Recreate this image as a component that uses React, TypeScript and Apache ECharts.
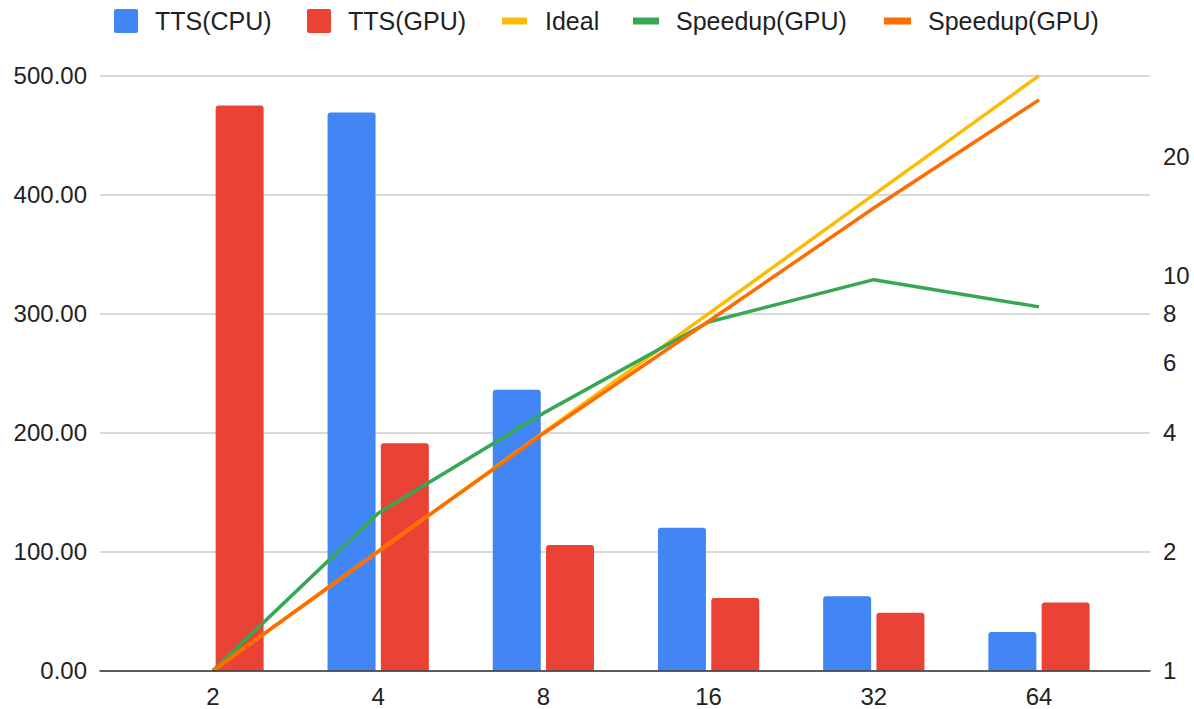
import React, { useEffect, useRef } from 'react';
import * as echarts from 'echarts';

// Thread counts on the category axis
const categories = ['2', '4', '8', '16', '32', '64'];

// Time to solution (left axis)
const ttsCpu: (number | null)[] = [null, 469, 236, 120, 62.4, 32.3];
const ttsGpu: number[] = [475, 191, 105.6, 61, 48.5, 57.2];

// Speedup curves (right axis, log2 scale)
const ideal: number[] = [1, 2, 4, 8, 16, 32];
const speedupGpu: number[] = [1, 2.5, 4.48, 7.62, 9.75, 8.32];
const speedupGpu2: number[] = [1, 2, 3.98, 7.65, 14.8, 27.8];

// Right-axis tick labels
const rightTickLabels = [1, 2, 4, 6, 8, 10, 20];

const seriesNames = ['TTS(CPU)', 'TTS(GPU)', 'Ideal', 'Speedup(GPU)', 'Speedup(GPU) b'];
const legendLabels = ['TTS(CPU)', 'TTS(GPU)', 'Ideal', 'Speedup(GPU)', 'Speedup(GPU)'];
const colors = ['#4285F4', '#EA4335', '#FBBC04', '#34A853', '#FF6D01'];

const FONT = '"Liberation Sans", Arial, sans-serif';
const TEXT = '#222222';

// square legend swatch with slightly rounded corners
const SWATCH =
  'path://M2,0H22A2,2 0 0 1 24,2V22A2,2 0 0 1 22,24H2A2,2 0 0 1 0,22V2A2,2 0 0 1 2,0Z';

export default function App() {
  const ref = useRef<HTMLDivElement>(null);

  useEffect(() => {
    if (!ref.current) return;
    const chart = echarts.init(ref.current, undefined, { renderer: 'svg' });

    const legendLayout = [
      { left: 114, w: 24, h: 24, icon: SWATCH, gap: 17 },
      { left: 307, w: 24, h: 24, icon: SWATCH, gap: 17 },
      { left: 502, w: 25, h: 7, icon: 'rect', gap: 18 },
      { left: 633, w: 26, h: 7, icon: 'rect', gap: 17 },
      { left: 884, w: 27, h: 7, icon: 'rect', gap: 17 },
    ];

    const legends = legendLayout.map((l, i) => ({
      data: [seriesNames[i]],
      left: l.left,
      top: 8.5,
      padding: 0,
      itemWidth: l.w,
      itemHeight: l.h,
      icon: l.icon,
      selectedMode: false,
      formatter: () => legendLabels[i],
      textStyle: {
        fontFamily: FONT,
        fontSize: 25,
        color: TEXT,
        padding: [0, 0, 0, l.gap - 5],
      },
    }));

    chart.setOption({
      animation: false,
      backgroundColor: '#ffffff',
      color: colors,
      textStyle: { fontFamily: FONT },
      legend: legends,
      grid: [
        // full-width grid carrying the gridlines, baseline and axis labels
        { left: 100, right: 44, top: 75.7, bottom: 38.5 },
        // inner grid where the categories and series are laid out
        { left: 130.4, right: 72.4, top: 75.7, bottom: 38.5 },
      ],
      xAxis: [
        {
          gridIndex: 0,
          type: 'value',
          min: 0,
          max: 1,
          axisLine: { show: true, onZero: false, lineStyle: { color: '#333333', width: 1.5 } },
          axisTick: { show: false },
          axisLabel: { show: false },
          splitLine: { show: false },
          z: 5,
        },
        {
          gridIndex: 1,
          type: 'category',
          data: categories,
          axisLine: { show: false },
          axisTick: { show: false },
          axisLabel: { fontFamily: FONT, fontSize: 24, color: TEXT, margin: 14 },
        },
      ],
      yAxis: [
        {
          gridIndex: 0,
          type: 'value',
          min: 0,
          max: 500,
          interval: 100,
          axisLine: { show: false },
          axisTick: { show: false },
          axisLabel: {
            fontFamily: FONT,
            fontSize: 24,
            color: TEXT,
            margin: 13,
            formatter: (v: number) => v.toFixed(2),
          },
          splitLine: { lineStyle: { color: '#cccccc', width: 1.5 } },
        },
        {
          gridIndex: 0,
          type: 'value',
          position: 'right',
          min: 0,
          max: 5,
          axisLine: { show: false },
          axisTick: { show: false },
          splitLine: { show: false },
          axisLabel: {
            fontFamily: FONT,
            fontSize: 24,
            color: TEXT,
            margin: 13,
            customValues: rightTickLabels.map((t) => Math.log2(t)),
            formatter: (v: number) => String(Math.round(Math.pow(2, v))),
          },
        },
        { gridIndex: 1, type: 'value', min: 0, max: 500, show: false },
        { gridIndex: 1, type: 'log', logBase: 2, min: 1, max: 32, show: false },
      ],
      series: [
        {
          name: seriesNames[0],
          type: 'bar',
          xAxisIndex: 1,
          yAxisIndex: 2,
          data: ttsCpu,
          barGap: '11%',
          barCategoryGap: '38.7%',
          itemStyle: { color: colors[0], borderRadius: [3, 3, 0, 0] },
        },
        {
          name: seriesNames[1],
          type: 'bar',
          xAxisIndex: 1,
          yAxisIndex: 2,
          data: ttsGpu,
          barGap: '11%',
          barCategoryGap: '38.7%',
          itemStyle: { color: colors[1], borderRadius: [3, 3, 0, 0] },
        },
        {
          name: seriesNames[2],
          type: 'line',
          xAxisIndex: 1,
          yAxisIndex: 3,
          data: ideal,
          symbol: 'none',
          lineStyle: { color: colors[2], width: 3.5 },
          itemStyle: { color: colors[2] },
        },
        {
          name: seriesNames[3],
          type: 'line',
          xAxisIndex: 1,
          yAxisIndex: 3,
          data: speedupGpu,
          symbol: 'none',
          lineStyle: { color: colors[3], width: 3.5 },
          itemStyle: { color: colors[3] },
        },
        {
          name: seriesNames[4],
          type: 'line',
          xAxisIndex: 1,
          yAxisIndex: 3,
          data: speedupGpu2,
          symbol: 'none',
          lineStyle: { color: colors[4], width: 3.5 },
          itemStyle: { color: colors[4] },
        },
      ],
    });

    return () => chart.dispose();
  }, []);

  return (
    <div
      ref={ref}
      style={{ position: 'fixed', left: 0, top: 0, width: 1194, height: 709, background: '#fff' }}
    />
  );
}
